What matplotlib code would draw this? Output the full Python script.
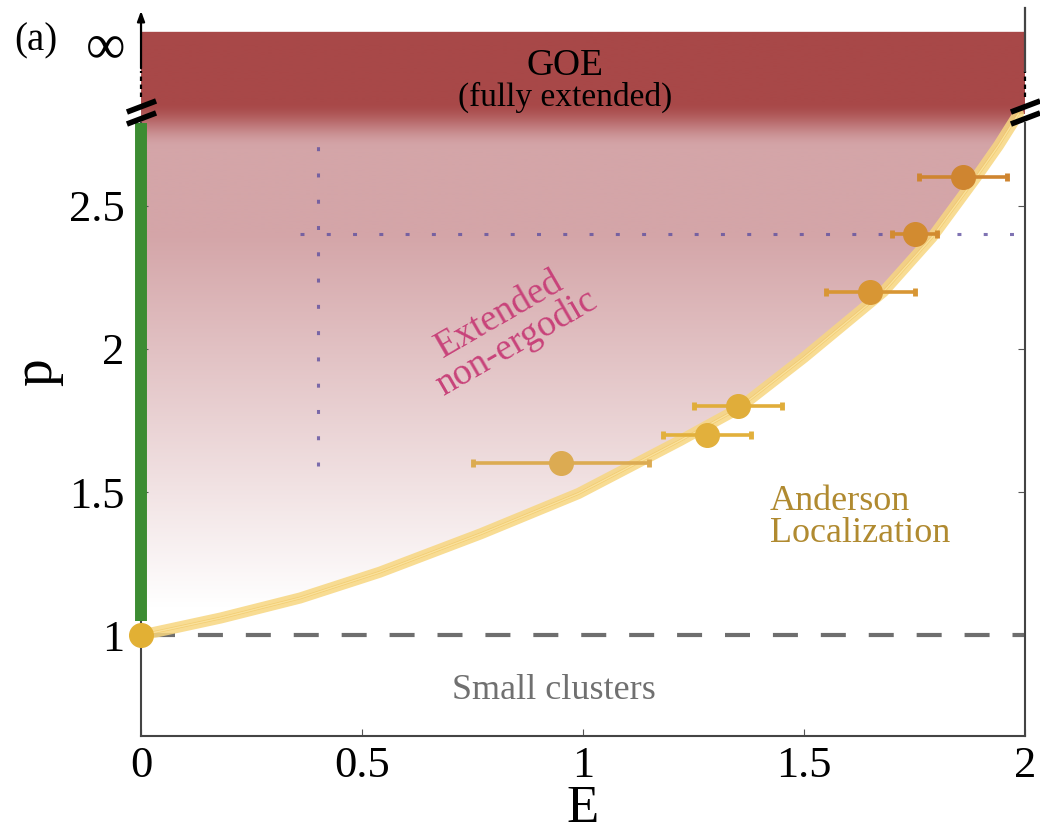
import matplotlib
matplotlib.use('Agg')
import matplotlib.pyplot as plt
import numpy as np
from matplotlib.patches import Polygon
from matplotlib.path import Path

plt.rcParams['font.family'] = ['Liberation Serif', 'DejaVu Serif']

# phase boundary (extended / localized)
curve_E = [0, 0.18, 0.36, 0.54, 0.77, 0.99, 1.22, 1.35, 1.50, 1.68, 1.79, 1.89, 1.94, 1.985]
curve_p = [1.0, 1.06, 1.13, 1.22, 1.355, 1.495, 1.68, 1.79, 1.97, 2.2, 2.39, 2.6, 2.71, 2.82]

# numerical mobility edge estimates
pts_E = [0.95, 1.28, 1.35, 1.65, 1.75, 1.86]
pts_p = [1.6, 1.7, 1.8, 2.2, 2.4, 2.6]
pts_err = [0.2, 0.1, 0.1, 0.1, 0.05, 0.1]
pts_color = ['#dcab52', '#e2b03c', '#e0ad3a', '#d89634', '#d28b30', '#cf8530']

x_ticks = [0, 0.5, 1, 1.5, 2]
x_tick_labels = ['0', '0.5', '1', '1.5', '2']
y_ticks = [1, 1.5, 2, 2.5]
y_tick_labels = ['1', '1.5', '2', '2.5']

p_break = 2.82
p_inf = 3.05
p_top = 3.107
p_cut = 2.4
E_cut = 0.4

fig = plt.figure(figsize=(10.4, 8.31), dpi=100)
ax = fig.add_axes([0.1356, 0.1143, 0.85, 0.876])
ax.set_xlim(0, 2)
ax.set_ylim(0.648, 3.19)

# gradient fill above the boundary
ps = np.linspace(0.9, p_top, 800)
goe = np.array([0xa8, 0x48, 0x48]) / 255
pink = np.array([0xd4, 0xa5, 0xa8]) / 255
white = np.ones(3)
rgb = np.zeros((len(ps), 1, 3))
for i, p in enumerate(ps):
    if p >= 2.86:
        c = goe
    elif p >= 2.70:
        t = (p - 2.70) / 0.16
        t = t * t * (3 - 2 * t)
        c = pink * (1 - t) + goe * t
    else:
        a = np.clip((p - 1.1) / 1.3, 0, 1)
        c = white * (1 - a) + pink * a
    rgb[i, 0] = c
im = ax.imshow(rgb, extent=(0, 2, 0.9, p_top), origin='lower', aspect='auto',
               interpolation='bilinear', zorder=0)
verts = list(zip(curve_E, curve_p)) + [(2.0, p_break), (2.0, p_top), (0, p_top)]
clip = Polygon(verts, closed=True, facecolor='none', edgecolor='none', transform=ax.transData)
ax.add_patch(clip)
im.set_clip_path(clip)

# guide lines
ax.plot([0.36, 1.99], [p_cut, p_cut], color='#5f50a0', lw=2.2, ls=(0, (1.3, 7.3)), alpha=0.8, zorder=2)
ax.plot([E_cut, E_cut], [1.59, 2.71], color='#5f50a0', lw=2.2, ls=(0, (1.3, 7.3)), alpha=0.8, zorder=2)
ax.plot([0.02, 2.0], [1, 1], color='#6e6e6e', lw=3, ls=(0, (6, 5.5)), zorder=2)

# boundary curve, brushed look
ax.plot(curve_E, curve_p, color='#f7d680', lw=8, alpha=0.85, solid_capstyle='round', zorder=3)
ax.plot(curve_E, curve_p, color='#f0c35a', lw=2, alpha=0.6, zorder=3)
ax.plot(curve_E, curve_p, color='#fbe6a8', lw=1, alpha=0.8, zorder=3)

# green segment at E = 0
ax.plot([0, 0], [1.05, 2.79], color='#3c8c32', lw=8.6, solid_capstyle='butt', zorder=4, clip_on=False)

# data points with error bars
for e, p, err, col in zip(pts_E, pts_p, pts_err, pts_color):
    ax.errorbar(e, p, xerr=err, fmt='o', ms=17, color=col, ecolor=col, elinewidth=2.6,
                capsize=3, capthick=3.5, zorder=5)
ax.plot([0], [1], 'o', ms=17, color='#e2b034', zorder=6, clip_on=False)

# spines, ticks
for side in ['left', 'right', 'bottom']:
    ax.spines[side].set_color('#444444')
    ax.spines[side].set_linewidth(1.5)
ax.spines['top'].set_visible(False)
ax.spines['left'].set_bounds(0.648, 2.79)
ax.spines['right'].set_bounds(0.648, 2.79)
ax.set_xticks(x_ticks, x_tick_labels)
ax.set_yticks(y_ticks, y_tick_labels)
ax.tick_params(direction='in', length=5, width=0.8, color='#555555', labelsize=32,
               right=True, top=False)
ax.tick_params(axis='x', pad=7)
ax.tick_params(axis='y', pad=12)

# axis breaks and the infinity part
brk = Path([(-1, -0.38), (1, 0.38)], [Path.MOVETO, Path.LINETO])
for ex in [0, 2]:
    ax.plot([ex, ex], [2.849, 2.806], ls='none', marker=brk, ms=21, mew=4, mec='k', clip_on=False, zorder=7)
    ax.plot([ex, ex], [2.88, 2.97], color='k', lw=1.6, ls=(0, (2, 1.6)), clip_on=False, zorder=7)
ax.annotate('', xy=(0, 3.19), xytext=(0, 2.97), xycoords='data',
            arrowprops=dict(arrowstyle='-|>,head_width=0.22,head_length=0.6', color='k', lw=1.6),
            annotation_clip=False, zorder=7)
ax.plot([2, 2], [2.97, 3.19], color='#444444', lw=1.6, clip_on=False, zorder=7)
ax.text(-0.035, p_inf, '∞', fontsize=40, ha='right', va='center')

# labels
fig.text(583 / 1040, 1 - 822 / 831, 'E', fontsize=38, ha='center', va='baseline')
ax.set_ylabel('p', fontsize=40, labelpad=4)
fig.text(0.014, 0.951, '(a)', fontsize=28, ha='left', va='center')

ax.text(0.96, 2.99, 'GOE', fontsize=27, ha='center', va='center', zorder=8)
ax.text(0.96, 2.877, '(fully extended)', fontsize=24, ha='center', va='center', zorder=8)
ax.text(0.83, 2.07, 'Extended\nnon-ergodic', fontsize=27, color='#c8437a', rotation=30,
        ha='center', va='center', multialignment='center', linespacing=0.95, zorder=8)
ax.text(1.423, 1.41, 'Anderson\nLocalization', fontsize=26, color='#b08a30',
        ha='left', va='center', linespacing=0.95, zorder=8)
ax.text(0.935, 0.808, 'Small clusters', fontsize=26, color='#707070', ha='center', va='center', zorder=8)

fig.savefig('out.png', dpi=100)
